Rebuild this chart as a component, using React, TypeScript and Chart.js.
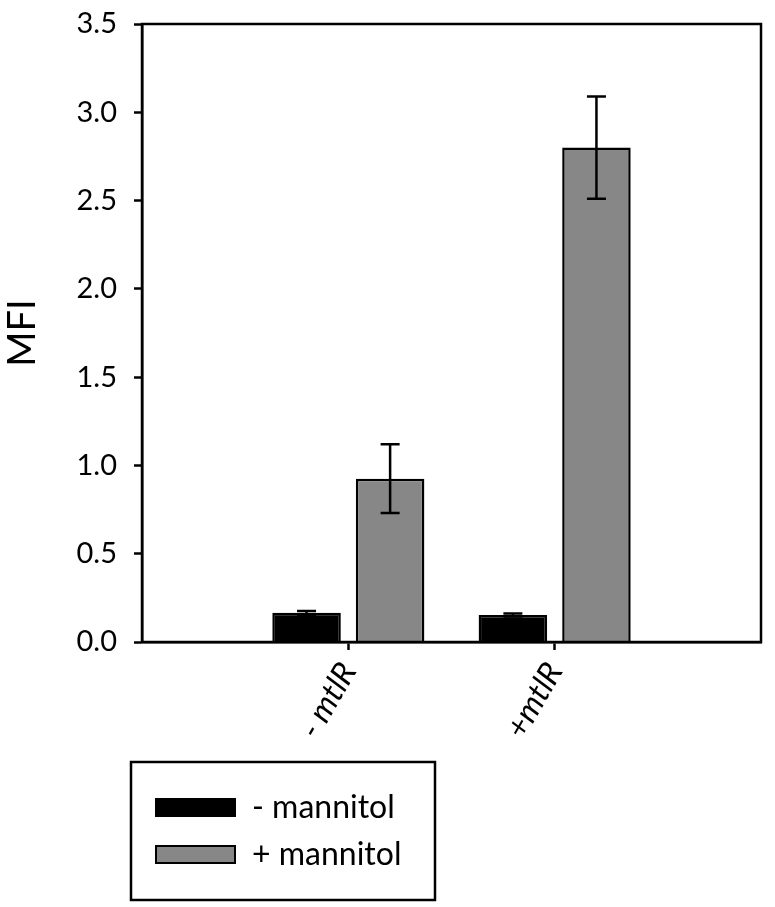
import React, { useEffect, useRef } from "react";
import { Chart, registerables } from "chart.js";

Chart.register(...registerables);

const categories = ["- mtlR", "+mtlR"];
const minusMannitol = [0.165, 0.153];
const minusMannitolErr = [0.01, 0.008];
const plusMannitol = [0.925, 2.8];
const plusMannitolErr = [0.195, 0.29];
const seriesLabels = ["- mannitol", "+ mannitol"];
const seriesColors = ["#000000", "#878787"];
const yTicks = [0, 0.5, 1.0, 1.5, 2.0, 2.5, 3.0, 3.5];
const yTitle = "MFI";

const FONT = "Lato, 'Noto Sans', sans-serif";

export default function App() {
  const ref = useRef<HTMLCanvasElement | null>(null);

  useEffect(() => {
    document.body.style.margin = "0";
    const canvas = ref.current;
    if (!canvas) return;

    const labels = ["", ...categories, ""];
    const pad = (arr: number[]) => [null, ...arr, null];
    const errs = [pad(minusMannitolErr), pad(plusMannitolErr)];

    const errorBars = {
      id: "errorBars",
      afterDatasetsDraw(chart: any) {
        const ctx = chart.ctx;
        const y = chart.scales.y;
        ctx.save();
        ctx.strokeStyle = "#000";
        ctx.lineWidth = 2.5;
        chart.data.datasets.forEach((ds: any, di: number) => {
          const meta = chart.getDatasetMeta(di);
          meta.data.forEach((el: any, i: number) => {
            const v = ds.data[i];
            const e = errs[di][i];
            if (v == null || e == null) return;
            const x = el.x;
            const top = y.getPixelForValue(v + e);
            const bot = y.getPixelForValue(v - e);
            const cap = 9.5;
            ctx.beginPath();
            ctx.moveTo(x, top);
            ctx.lineTo(x, bot);
            ctx.moveTo(x - cap, top);
            ctx.lineTo(x + cap, top);
            ctx.moveTo(x - cap, bot);
            ctx.lineTo(x + cap, bot);
            ctx.stroke();
          });
        });
        ctx.restore();
      },
    };

    const frameAndLegend = {
      id: "frameAndLegend",
      afterDraw(chart: any) {
        const ctx = chart.ctx;
        const a = chart.chartArea;
        ctx.save();
        ctx.strokeStyle = "#000";
        ctx.lineWidth = 2.5;
        ctx.strokeRect(a.left, a.top, a.right - a.left, a.bottom - a.top);

        // legend box
        const bx = 131, by = 762, bw = 304, bh = 138;
        ctx.lineWidth = 2.5;
        ctx.strokeRect(bx, by, bw, bh);
        ctx.font = `32px ${FONT}`;
        ctx.textBaseline = "middle";
        ctx.textAlign = "left";
        chart.data.datasets.forEach((ds: any, i: number) => {
          const sy = i === 0 ? 799 : 846;
          ctx.fillStyle = ds.backgroundColor;
          ctx.fillRect(156, sy, 79, 17);
          ctx.lineWidth = 2;
          ctx.strokeStyle = "#000";
          ctx.strokeRect(156, sy, 79, 17);
          ctx.fillStyle = "#000";
          ctx.fillText(ds.label, 252, sy + 9);
        });
        ctx.restore();
      },
    };

    const chart = new Chart(canvas, {
      type: "bar",
      data: {
        labels,
        datasets: [
          {
            label: seriesLabels[0],
            data: pad(minusMannitol) as any,
            backgroundColor: seriesColors[0],
            borderColor: "#000",
            borderWidth: 2.5,
          },
          {
            label: seriesLabels[1],
            data: pad(plusMannitol) as any,
            backgroundColor: seriesColors[1],
            borderColor: "#000",
            borderWidth: 2.5,
          },
        ],
      },
      options: {
        animation: false,
        responsive: false,
        devicePixelRatio: 1,
        categoryPercentage: 0.81,
        barPercentage: 0.82,
        layout: { padding: { left: 0, top: 24, right: 14, bottom: 0 } },
        plugins: {
          legend: { display: false },
          tooltip: { enabled: false },
        },
        scales: {
          x: {
            type: "category",
            offset: false,
            afterFit(scale: any) {
              scale.height = 265;
              scale.paddingLeft = 0;
              scale.paddingRight = 0;
            },
            border: { display: true, color: "#000", width: 2.5 },
            grid: {
              display: true,
              offset: false,
              drawOnChartArea: false,
              drawTicks: true,
              tickLength: 8,
              tickWidth: 2.5,
              tickColor: (c: any) =>
                c.index > 0 && c.index <= categories.length ? "#000" : "rgba(0,0,0,0)",
            },
            ticks: {
              autoSkip: false,
              maxRotation: 60,
              minRotation: 60,
              padding: 6,
              color: "#000",
              font: { family: FONT, size: 32, style: "italic" },
            },
          },
          y: {
            type: "linear",
            min: yTicks[0],
            max: yTicks[yTicks.length - 1],
            afterFit(scale: any) {
              scale.width = 142;
              scale.paddingTop = 0;
              scale.paddingBottom = 0;
            },
            afterBuildTicks(scale: any) {
              scale.ticks = yTicks.map((v) => ({ value: v }));
            },
            border: { display: true, color: "#000", width: 2.5 },
            grid: {
              display: true,
              drawOnChartArea: false,
              drawTicks: true,
              tickLength: 8,
              tickWidth: 2.5,
              tickColor: "#000",
            },
            ticks: {
              padding: 17,
              color: "#000",
              font: { family: FONT, size: 29 },
              callback: (v: any) => Number(v).toFixed(1),
            },
            title: {
              display: true,
              text: yTitle,
              color: "#000",
              padding: 0,
              font: { family: FONT, size: 38 },
            },
          },
        },
      },
      plugins: [errorBars, frameAndLegend],
    });

    return () => chart.destroy();
  }, []);

  return (
    <div style={{ width: 775, height: 907, background: "#fff" }}>
      <canvas ref={ref} width={775} height={907} />
    </div>
  );
}
